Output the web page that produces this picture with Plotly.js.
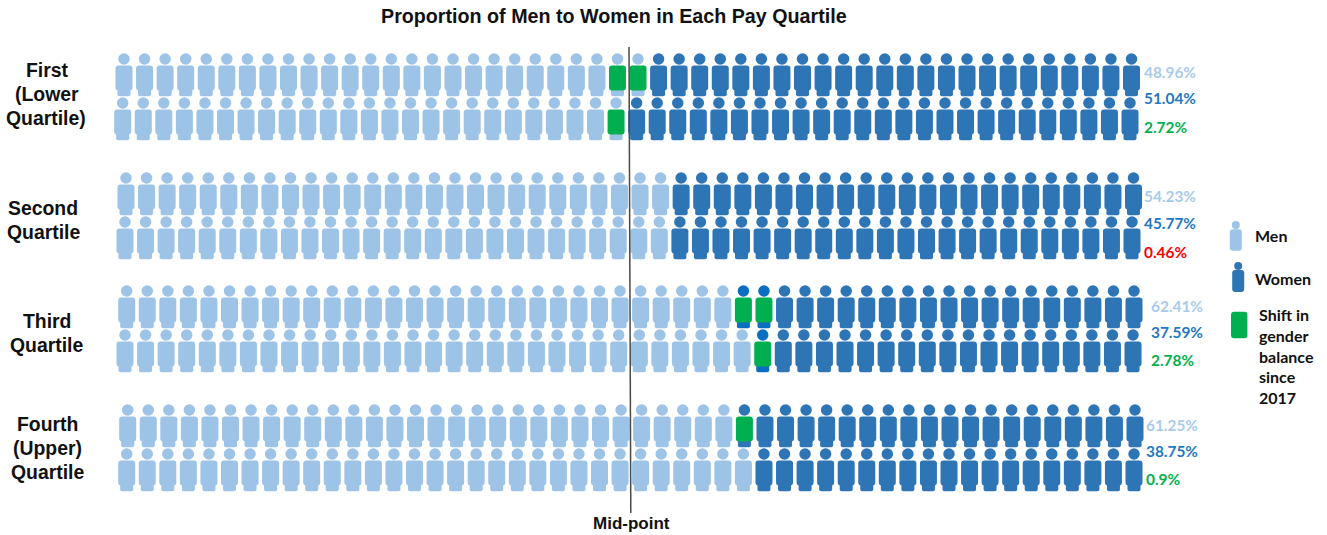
<!DOCTYPE html>
<html>
<head>
<meta charset="utf-8">
<script src="https://cdn.plot.ly/plotly-3.0.1.min.js"></script>
<style>html,body{margin:0;padding:0;background:#fff}#c{width:1327px;height:535px}</style>
</head>
<body>
<div id="c"></div>
<script>
// ---- data ----
const figuresPerRow = 50;
const menFigures    = [24, 24, 27, 27, 30, 31, 30, 31];
const shiftFigures  = [ 2,  1,  0,  0,  2,  1,  1,  0];
const menPct   = ['48.96%', '54.23%', '62.41%', '61.25%'];
const womenPct = ['51.04%', '45.77%', '37.59%', '38.75%'];
const shiftPct = ['2.72%', '0.46%', '2.78%', '0.9%'];
const shiftColors = ['#00B050', '#FF0000', '#00B050', '#00B050'];
const quartileLines = ['First', '(Lower', 'Quartile)', 'Second', 'Quartile', 'Third', 'Quartile', 'Fourth', '(Upper)', 'Quartile'];
const legendLines = ['Men', 'Women', 'Shift in', 'gender', 'balance', 'since', '2017'];

// ---- layout of the pictogram (pixel-scaled axes) ----
const rowFirstX = [124, 122.7, 126, 125, 126.7, 125, 127.7, 126.7];
const rowLastX  = [1131.5, 1130, 1133.5, 1132, 1134, 1133, 1135, 1134];
const rowHeadY  = [59, 103, 178, 222, 291, 335, 410, 454];
const shiftUnder = ['#9DC3E6', '#9DC3E6', '', '', '#0A6EC2', '#0A6EC2', '#2E75B6', ''];
const quartileX = [47, 47, 46, 43, 43, 47, 46, 47, 47, 47];
const quartileY = [70, 94, 118, 207.5, 231.5, 320.5, 345, 424, 448, 472];
const pctX = [1144, 1144, 1151, 1146];
const menPctY = [72, 196, 306, 425];
const womenPctY = [98, 223, 332, 451];
const shiftPctY = [127, 252, 360, 479];
const legendTextX = [1255, 1255, 1259, 1259, 1259, 1259, 1259];
const legendTextY = [235, 278, 314, 335, 356, 376, 397];
const LIGHT = '#9DC3E6', DARK = '#2E75B6', GREEN = '#00B050', WOMEN_TXT = '#1F78C4';
const bodyTop = 6.4, bodyH = 25, legTop = 29, legH = 8.3, bodyW = 17, legW = 13, headD = 11.5;

const hx = [], hy = [], hc = [];
const bx = [], bb = [], bc = [];
const lx = [], lb = [], lc = [];
rowHeadY.forEach((y, r) => {
  const step = (rowLastX[r] - rowFirstX[r]) / (figuresPerRow - 1);
  for (let i = 0; i < figuresPerRow; i++) {
    const x = rowFirstX[r] + i * step;
    const shifted = i >= menFigures[r] && i < menFigures[r] + shiftFigures[r];
    const base = i < menFigures[r] ? LIGHT : DARK;
    const c = shifted ? shiftUnder[r] : base;
    hx.push(x); hy.push(y); hc.push(shifted && r === 6 ? DARK : c);
    bx.push(x); bb.push(y + bodyTop); bc.push(shifted ? GREEN : base);
    lx.push(x); lb.push(y + legTop); lc.push(c);
  }
});

const noHover = {hoverinfo: 'skip', showlegend: false};
const traces = [
  Object.assign({type: 'bar', x: lx, base: lb, y: lx.map(() => legH), width: legW,
    marker: {color: lc, cornerradius: 2, line: {width: 0}}}, noHover),
  Object.assign({type: 'bar', x: bx, base: bb, y: bx.map(() => bodyH), width: bodyW,
    marker: {color: bc, cornerradius: 3, line: {width: 0}}}, noHover),
  Object.assign({type: 'scatter', mode: 'markers', x: hx, y: hy,
    marker: {size: headD, color: hc, line: {width: 0}}}, noHover),
  // legend figures
  Object.assign({type: 'bar', x: [1235.8, 1238.2], base: [229.3, 270], y: [21.4, 22], width: 12,
    marker: {color: [LIGHT, DARK], cornerradius: 3, line: {width: 0}}}, noHover),
  Object.assign({type: 'bar', x: [1239.2], base: [311.7], y: [26.5], width: 16.4,
    marker: {color: [GREEN], cornerradius: 3, line: {width: 0}}}, noHover),
  Object.assign({type: 'scatter', mode: 'markers', x: [1235.8, 1238.2], y: [225, 266],
    marker: {size: 8, color: [LIGHT, DARK], line: {width: 0}}}, noHover),
  // mid-point line
  Object.assign({type: 'scatter', mode: 'lines', x: [629, 630.8], y: [47, 513],
    line: {color: '#4A4A4A', width: 1.5}}, noHover)
];

const ann = [];
const BODY = 'Liberation Sans, Arial, sans-serif';
const PCT = 'Lato, Carlito, sans-serif';
function t(text, x, y, size, color, family, anchor) {
  ann.push({text, x, y, xref: 'x', yref: 'y', showarrow: false, xanchor: anchor, yanchor: 'middle',
    font: {size, color, family}, borderpad: 0, borderwidth: 0});
}
t('<b>Proportion of Men to Women in Each Pay Quartile</b>', 614, 16, 19.7, '#111', BODY, 'center');
quartileLines.forEach((s, i) => t('<b>' + s + '</b>', quartileX[i], quartileY[i], 19.4, '#111', BODY, 'center'));
menPct.forEach((s, i) => t('<b>' + s + '</b>', pctX[i], menPctY[i], 15.4, '#A9CBEA', PCT, 'left'));
womenPct.forEach((s, i) => t('<b>' + s + '</b>', pctX[i], womenPctY[i], 15.4, WOMEN_TXT, PCT, 'left'));
shiftPct.forEach((s, i) => t('<b>' + s + '</b>', pctX[i], shiftPctY[i], 15.4, shiftColors[i], PCT, 'left'));
legendLines.forEach((s, i) => t('<b>' + s + '</b>', legendTextX[i], legendTextY[i], 16, '#111', PCT, 'left'));
t('<b>Mid-point</b>', 631, 523.5, 17, '#111', BODY, 'center');

const hidden = {visible: false, fixedrange: true, showgrid: false, zeroline: false};
const layout = {
  width: 1327, height: 535,
  margin: {l: 0, r: 0, t: 0, b: 0},
  paper_bgcolor: '#fff', plot_bgcolor: '#fff',
  barmode: 'overlay', showlegend: false,
  xaxis: Object.assign({range: [0, 1327]}, hidden),
  yaxis: Object.assign({range: [535, 0]}, hidden),
  annotations: ann
};
Plotly.newPlot('c', traces, layout, {displayModeBar: false, staticPlot: true});
</script>
</body>
</html>
